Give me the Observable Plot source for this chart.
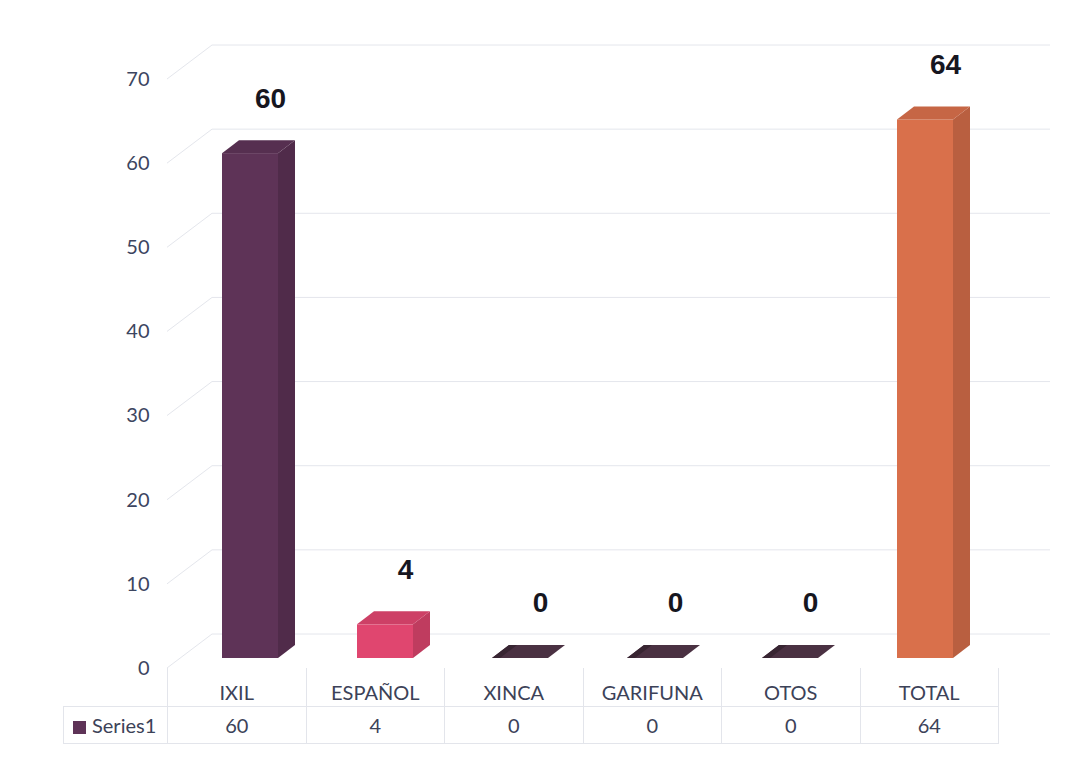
<!DOCTYPE html>
<html>
<head>
<meta charset="utf-8">
<script src="https://cdn.jsdelivr.net/npm/d3@7"></script>
<script src="https://cdn.jsdelivr.net/npm/@observablehq/plot@0.6"></script>
<style>
  html, body { margin: 0; padding: 0; background: #fff; }
  #wrap { position: relative; width: 1083px; height: 761px; overflow: hidden; }
  #tbl { position: absolute; left: 63px; top: 668px; }
  #tbl table { border-collapse: collapse; table-layout: fixed; font-family: Lato, "Open Sans", sans-serif; font-size: 20px; color: #3c4258; }
  #tbl td { padding: 0; text-align: center; white-space: nowrap; }
  #tbl tr.cat td { height: 38px; vertical-align: bottom; padding-bottom: 2px; box-sizing: border-box; border-left: 1px solid #e3e5eb; border-right: 1px solid #e3e5eb; border-bottom: 1px solid #e3e5eb; }
  #tbl tr.cat td.blank { border-left: none; border-top: none; }
  #tbl tr.val td { height: 37px; vertical-align: middle; box-sizing: border-box; border: 1px solid #e3e5eb; }
  #tbl td.series { text-align: left; padding-left: 9px; }
  #tbl .sw { display: inline-block; width: 13px; height: 13px; margin-right: 6px; vertical-align: -1px; }
</style>
</head>
<body>
<div id="wrap"><div id="chart"></div><div id="tbl"></div></div>
<script>
// ---- data ----
const categories = ["IXIL", "ESPAÑOL", "XINCA", "GARIFUNA", "OTOS", "TOTAL"];
const values = [60, 4, 0, 0, 0, 64];
const barColors = ["#5e3357", "#e0466f", "#4a3142", "#4a3142", "#4a3142", "#d9704b"];
const yTicks = [0, 10, 20, 30, 40, 50, 60, 70];
const seriesName = "Series1";

const data = categories.map((c, i) => ({category: c, value: values[i], color: barColors[i]}));

// 3D depth (pixels)
const DX = 17, DY = -13;

function walls(index, scales, vals, dims) {
  const y = scales.y;
  const g = d3.create("svg:g").attr("stroke", "#e4e6ec").attr("stroke-width", 1).attr("fill", "none");
  const xL = dims.marginLeft - 13, xB = dims.marginLeft + 32, xR = dims.width - 33;
  for (const t of yTicks) {
    const yy = y(t);
    g.append("line").attr("x1", xL).attr("y1", yy + 10).attr("x2", xB).attr("y2", yy - 24);
    g.append("line").attr("x1", xB).attr("y1", yy - 24).attr("x2", xR).attr("y2", yy - 24);
  }
  return g.node();
}

function bars3d(index, scales, vals, dims) {
  const {x, y} = scales;
  const bw = x.bandwidth ? x.bandwidth() : 56;
  const g = d3.create("svg:g");
  const pts = a => a.map(p => p.join(",")).join(" ");
  for (const d of data) {
    const xl = x(d.category), xr = xl + bw, yt = y(d.value), yb = y(0);
    const c = d3.color(d.color);
    if (d.value > 0) {
      g.append("polygon").attr("points", pts([[xr, yt], [xr + DX, yt + DY], [xr + DX, yb + DY], [xr, yb]]))
        .attr("fill", c.darker(0.45).formatHex());
      g.append("polygon").attr("points", pts([[xl, yt], [xl + DX, yt + DY], [xr + DX, yt + DY], [xr, yt]]))
        .attr("fill", c.darker(0.25).formatHex());
    } else {
      g.append("polygon").attr("points", pts([[xl, yb], [xl + DX, yb + DY], [xr + DX, yb + DY], [xr, yb]]))
        .attr("fill", c.formatHex());
      g.append("polygon").attr("points", pts([[xl, yb], [xl + DX, yb + DY], [xl + DX + 8, yb + DY], [xl + 8, yb]]))
        .attr("fill", c.darker(0.8).formatHex());
    }
  }
  return g.node();
}

const chart = Plot.plot({
  width: 1083,
  height: 761,
  marginLeft: 180,
  marginRight: 89,
  marginTop: 69,
  marginBottom: 103,
  style: {fontFamily: "Lato, 'Open Sans', sans-serif", fontSize: "20px", color: "#3c4560", background: "#fff"},
  x: {domain: categories, paddingInner: 0.587, paddingOuter: 0.2935, axis: null},
  y: {domain: [0, 70], axis: null},
  color: {type: "identity"},
  marks: [
    walls,
    Plot.text(yTicks, {y: d => d, text: d => String(d), frameAnchor: "left", textAnchor: "end", dx: -31, dy: 10, fill: "#3c4560", fontSize: 20}),
    Plot.barY(data, {x: "category", y: "value", fill: "color"}),
    bars3d,
    Plot.text(data, {x: "category", y: "value", text: d => String(d.value), dx: 20, dy: -55,
      fontFamily: "'Liberation Sans', Arial, sans-serif", fontWeight: "bold", fontSize: 28, fill: "#16161f"})
  ]
});
document.getElementById("chart").appendChild(chart);

// ---- data table below the plot ----
const t = d3.select("#tbl").append("table");
const colgroup = t.append("colgroup");
colgroup.append("col").style("width", "104px");
categories.forEach(() => colgroup.append("col").style("width", "138.5px"));
const r1 = t.append("tr").attr("class", "cat");
r1.append("td").attr("class", "blank");
categories.forEach(c => r1.append("td").text(c));
const r2 = t.append("tr").attr("class", "val");
const s = r2.append("td").attr("class", "series");
s.append("span").attr("class", "sw").style("background", barColors[0]);
s.append("span").text(seriesName);
values.forEach(v => r2.append("td").text(String(v)));
</script>
</body>
</html>
